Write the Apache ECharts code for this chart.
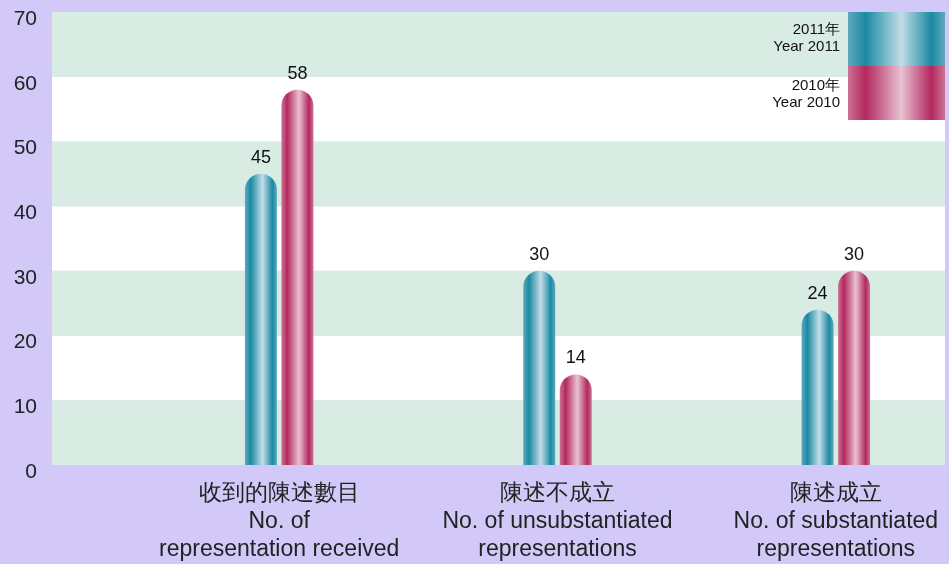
<!DOCTYPE html>
<html>
<head>
<meta charset="utf-8">
<script src="https://cdn.jsdelivr.net/npm/echarts@6/dist/echarts.min.js"></script>
<style>
  html, body { margin: 0; padding: 0; background: #d3c9f8; }
  #main { width: 949px; height: 564px; }
</style>
</head>
<body>
<div id="main"></div>
<script>
var categories = [
  '收到的陳述數目\nNo. of\nrepresentation received',
  '陳述不成立\nNo. of unsubstantiated\nrepresentations',
  '陳述成立\nNo. of substantiated\nrepresentations'
];
var year2011 = [45, 30, 24];
var year2010 = [58, 14, 30];
var yTicks = [0, 10, 20, 30, 40, 50, 60, 70];

// 柱子的圆柱渐变
function tube(dark, edge, light) {
  return new echarts.graphic.LinearGradient(0, 0, 1, 0, [
    {offset: 0, color: edge},
    {offset: 0.18, color: dark},
    {offset: 0.55, color: light},
    {offset: 0.86, color: dark},
    {offset: 1, color: edge}
  ]);
}

var myChart = echarts.init(document.getElementById('main'));
var font = '"Liberation Sans", Arial, sans-serif';

var option = {
  backgroundColor: '#d3c9f8',
  textStyle: {fontFamily: font},
  grid: [
    {left: 52, right: 4, top: 12, bottom: 99, outerBoundsMode: 'none'},
    {left: 140, width: 835, top: 12, bottom: 99, outerBoundsMode: 'none'}
  ],
  xAxis: [
    {gridIndex: 0, type: 'category', data: ['a'], show: false},
    {
      gridIndex: 1, type: 'category', data: categories,
      axisLine: {show: false}, axisTick: {show: false},
      axisLabel: {
        color: '#222', fontSize: 23, lineHeight: 28, margin: 15,
        fontFamily: font, interval: 0
      }
    }
  ],
  yAxis: [
    {
      gridIndex: 0, type: 'value', min: 0, max: 70, interval: 10,
      axisLine: {show: false}, axisTick: {show: false},
      splitLine: {show: false},
      splitArea: {show: true, areaStyle: {color: ['#d8ece3', '#ffffff']}},
      axisLabel: {
        color: '#222', fontSize: 21, margin: 15, verticalAlign: 'top', lineHeight: 14,
        fontFamily: font,
        formatter: function (v) { return yTicks.indexOf(v) >= 0 ? String(v) : ''; }
      }
    },
    {gridIndex: 1, type: 'value', min: 0, max: 70, interval: 10, show: false, splitLine: {show: false}}
  ],
  series: [
    {
      name: '2011', type: 'bar', xAxisIndex: 1, yAxisIndex: 1,
      data: year2011, barWidth: 32, barGap: '14%',
      itemStyle: {color: tube('#1a8aa2', '#5fa9bd', '#c3dde7'), borderRadius: [16, 16, 0, 0]},
      label: {show: true, position: 'top', distance: 7, color: '#111', fontSize: 18, fontFamily: font}
    },
    {
      name: '2010', type: 'bar', xAxisIndex: 1, yAxisIndex: 1,
      data: year2010, barWidth: 32,
      itemStyle: {color: tube('#b3285f', '#cc7393', '#e8c2d2'), borderRadius: [16, 16, 0, 0]},
      label: {show: true, position: 'top', distance: 7, color: '#111', fontSize: 18, fontFamily: font}
    }
  ],
  graphic: {
    elements: [
      {type: 'rect', z: 100, x: 848, y: 12, shape: {x: 0, y: 0, width: 97, height: 54}, style: {fill: tube('#1a8aa2', '#5fa9bd', '#c3dde7')}},
      {type: 'rect', z: 100, x: 848, y: 66, shape: {x: 0, y: 0, width: 97, height: 54}, style: {fill: tube('#b3285f', '#cc7393', '#e8c2d2')}},
      {type: 'text', z: 100, x: 840, y: 21, style: {text: '2011年\nYear 2011', align: 'right', fill: '#111', fontSize: 15, lineHeight: 17, fontFamily: font}},
      {type: 'text', z: 100, x: 840, y: 77, style: {text: '2010年\nYear 2010', align: 'right', fill: '#111', fontSize: 15, lineHeight: 17, fontFamily: font}}
    ]
  }
};

myChart.setOption(option);
window.addEventListener('resize', function () {
  myChart.resize();
});
</script>
</body>
</html>
